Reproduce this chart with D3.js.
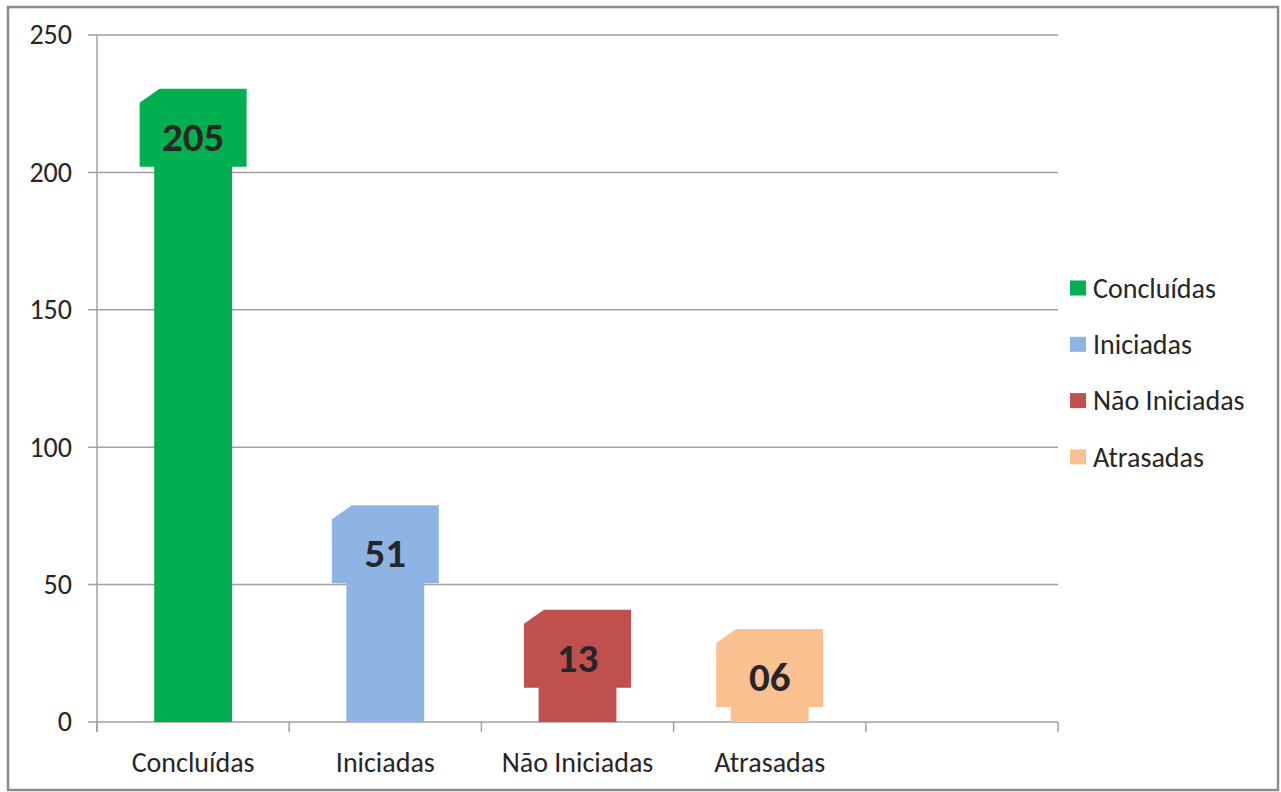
<!DOCTYPE html>
<html>
<head>
<meta charset="utf-8">
<script src="https://cdn.jsdelivr.net/npm/d3@7"></script>
<style>
  body { margin: 0; background: #fff; }
  text { font-family: Carlito, Calibri, "Open Sans", sans-serif; }
</style>
</head>
<body>
<script>
// ---- data ----
var categories = ["Concluídas", "Iniciadas", "Não Iniciadas", "Atrasadas"];
var values = [205, 51, 13, 6];
var colors = ["#00b050", "#8eb4e3", "#c0504d", "#fac090"];
var yTicks = [0, 50, 100, 150, 200, 250];

// ---- layout ----
var W = 1281, H = 792;
var margin = {top: 35, right: 223, bottom: 70, left: 97},
    width = W - margin.left - margin.right,
    height = H - margin.top - margin.bottom;
var fontFam = "Carlito, Calibri, 'Open Sans', sans-serif";

var svg = d3.select("body").append("svg")
    .attr("width", W)
    .attr("height", H);

// outer frame
svg.append("rect")
    .attr("x", 8).attr("y", 7)
    .attr("width", 1270).attr("height", 783)
    .attr("fill", "none")
    .attr("stroke", "#8c8c8c")
    .attr("stroke-width", 2.5);

var g = svg.append("g")
    .attr("transform", "translate(" + margin.left + "," + margin.top + ")");

// one empty slot at the end, like the original chart
var x = d3.scaleBand()
    .domain(categories.concat([""]))
    .range([0, width])
    .padding(0);

var y = d3.scaleLinear()
    .domain([0, 250])
    .range([height, 0]);

// gridlines
g.append("g").selectAll("line")
    .data(yTicks)
    .enter().append("line")
    .attr("x1", -9).attr("x2", width)
    .attr("y1", function(d) { return y(d); })
    .attr("y2", function(d) { return y(d); })
    .attr("stroke", "#a0a0a0")
    .attr("stroke-width", 1.5);

// y axis
var yAxis = g.append("g")
    .call(d3.axisLeft(y).tickValues(yTicks).tickSize(0).tickPadding(25));
yAxis.select(".domain").remove();
yAxis.selectAll("text")
    .attr("font-size", 28)
    .attr("fill", "#262626")
    .style("font-family", fontFam);

g.append("line")
    .attr("x1", 0).attr("x2", 0)
    .attr("y1", 0).attr("y2", height + 10)
    .attr("stroke", "#a0a0a0")
    .attr("stroke-width", 1.5);

// x axis: labels at band centres, ticks at band edges
var xAxis = g.append("g")
    .attr("transform", "translate(0," + height + ")")
    .call(d3.axisBottom(x).tickSize(0).tickPadding(30));
xAxis.select(".domain").remove();
xAxis.selectAll("text")
    .attr("font-size", 28)
    .attr("fill", "#262626")
    .style("font-family", fontFam);

var edges = x.domain().map(function(d) { return x(d); }).concat([width]);
g.append("g").selectAll("line")
    .data(edges)
    .enter().append("line")
    .attr("x1", function(d) { return d; })
    .attr("x2", function(d) { return d; })
    .attr("y1", height).attr("y2", height + 10)
    .attr("stroke", "#a0a0a0")
    .attr("stroke-width", 1.5);

// bars
var barW = x.bandwidth() * 0.405;
g.selectAll(".bar")
    .data(categories)
    .enter().append("rect")
    .attr("class", "bar")
    .attr("x", function(d) { return x(d) + x.bandwidth() / 2 - barW / 2; })
    .attr("width", barW)
    .attr("y", function(d, i) { return y(values[i]); })
    .attr("height", function(d, i) { return height - y(values[i]); })
    .attr("fill", function(d, i) { return colors[i]; });

// value labels in snipped-corner boxes
var boxW = 107, boxH = 78, snipX = 20, snipY = 14;
var fmt = d3.format("02d");
var labels = g.selectAll(".lbl")
    .data(categories)
    .enter().append("g")
    .attr("class", "lbl")
    .attr("transform", function(d, i) {
      var cx = x(d) + x.bandwidth() / 2;
      var bottom = y(values[i]) + (values[i] > 100 ? 8 : 1.5);
      return "translate(" + (cx - boxW / 2) + "," + (bottom - boxH) + ")";
    });

labels.append("path")
    .attr("d", "M0," + snipY + "L" + snipX + ",0H" + boxW + "V" + boxH + "H0Z")
    .attr("fill", function(d, i) { return colors[i]; });

labels.append("text")
    .attr("x", boxW / 2)
    .attr("y", boxH - 16)
    .attr("text-anchor", "middle")
    .attr("font-size", 41)
    .attr("font-weight", "bold")
    .attr("fill", "#262626")
    .text(function(d, i) { return fmt(values[i]); });

// legend
var legend = svg.append("g")
    .attr("transform", "translate(1070,288)");
var item = legend.selectAll(".item")
    .data(categories)
    .enter().append("g")
    .attr("class", "item")
    .attr("transform", function(d, i) { return "translate(0," + (i * 56.3) + ")"; });
item.append("rect")
    .attr("x", 0).attr("y", -7.5)
    .attr("width", 16).attr("height", 15)
    .attr("fill", function(d, i) { return colors[i]; });
item.append("text")
    .attr("x", 23)
    .attr("dy", "0.35em")
    .attr("font-size", 28)
    .attr("fill", "#262626")
    .text(function(d) { return d; });
</script>
</body>
</html>
